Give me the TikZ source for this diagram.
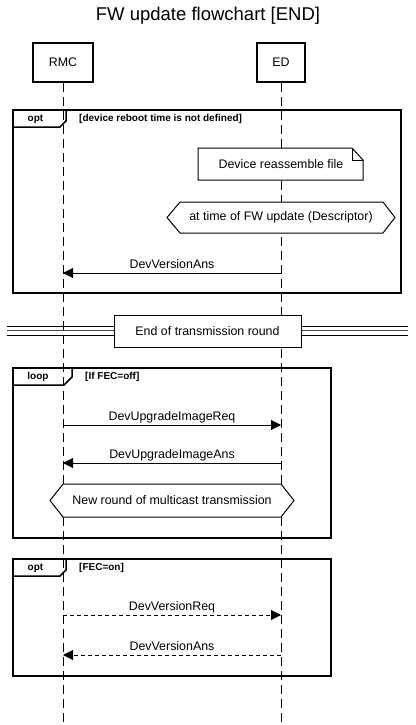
\documentclass[tikz,border=0pt]{standalone}
\usepackage{fontspec}
\setmainfont{Liberation Sans}
\usetikzlibrary{arrows.meta}

\begin{document}
\begin{tikzpicture}[x=1pt,y=-1pt]
        \tikzstyle{every node}=[font=\fontsize{12.4}{14}\selectfont,inner sep=0pt]
        \tikzstyle{actor}=[draw,line width=1.5pt,minimum height=39pt,fill=white]
        \tikzstyle{lifeline}=[line width=1pt,dash pattern=on 9pt off 5pt]
        \tikzstyle{frame}=[line width=1.5pt]
        \tikzstyle{tag}=[font=\fontsize{10}{12}\selectfont\bfseries,anchor=base]
        \tikzstyle{guard}=[font=\fontsize{10}{12}\selectfont\bfseries,anchor=base west]
        \tikzstyle{panel}=[draw,line width=1pt,fill=white]
        \tikzstyle{msg}=[line width=1pt,-{Triangle[length=10pt,width=10pt]}]
        \tikzstyle{reply}=[msg,dash pattern=on 4pt off 3pt]
        \tikzstyle{lbl}=[midway,anchor=base,yshift=5pt]
        \useasboundingbox (0,0) rectangle (415,725);

        \node (title) at (208,16) {\fontsize{18.5}{20}\selectfont FW update flowchart [END]};
        \node[actor,minimum width=60pt] (rmc) at (63,62.5) {RMC};
        \node[actor,minimum width=48pt] (ed) at (281,62.5) {ED};
        \coordinate (rmcend) at (63,725);
        \coordinate (edend) at (281,725);
        \draw[lifeline] (rmc.south) -- (rmcend);
        \draw[lifeline] (ed.south) -- (edend);

        % opt: reboot time
        \draw[frame] (13,110) rectangle (401,293);
        \draw[frame] (13,127) -- (60,127) -- (66,121) -- (66,110);
        \node[tag] (opta) at (35.5,121.5) {opt};
        \node[guard] (guarda) at (79,121.5) {[device reboot time is not defined]};
        \draw[panel] (198,148) -- (352,148) -- (363,160) -- (363,180) -- (198,180) -- cycle;
        \draw[line width=1pt] (352,148) -- (352,160) -- (363,160);
        \node (reassemble) at (281,164.5) {Device reassemble file};
        \draw[panel] (167,217.5) -- (180,202) -- (383,202) -- (395,217.5) -- (383,233) -- (180,233) -- cycle;
        \node (fwtime) at (281,217.5) {at time of FW update (Descriptor)};
        \coordinate (ed1) at (281,273);
        \coordinate (rmc1) at (63,273);
        \draw[msg] (ed1) -- (rmc1) node[lbl] {DevVersionAns};

        % end of round
        \coordinate (sepl) at (7,326);
        \coordinate (sepr) at (408,326);
        \draw[line width=1pt] (sepl) -- (sepr);
        \draw[line width=0.8pt,black!70] ([yshift=-4.8pt]sepl) -- ([yshift=-4.8pt]sepr);
        \draw[line width=1pt] ([yshift=-9.5pt]sepl) -- ([yshift=-9.5pt]sepr);
        \node[draw,line width=1pt,fill=white,minimum width=187pt,minimum height=32pt] (endround) at (207.5,331) {End of transmission round};

        % loop: FEC off
        \draw[frame] (13,368) rectangle (331,538);
        \draw[frame] (13,385) -- (64,385) -- (72,377) -- (72,368);
        \node[tag] (loop) at (38,379.5) {loop};
        \node[guard] (guardb) at (85,379.5) {[If FEC=off]};
        \coordinate (rmc2) at (63,425);
        \coordinate (ed2) at (281,425);
        \draw[msg] (rmc2) -- (ed2) node[lbl] {DevUpgradeImageReq};
        \coordinate (ed3) at (281,463);
        \coordinate (rmc3) at (63,463);
        \draw[msg] (ed3) -- (rmc3) node[lbl] {DevUpgradeImageAns};
        \draw[panel] (50,500.5) -- (63,484) -- (281,484) -- (294,500.5) -- (281,517) -- (63,517) -- cycle;
        \node (newround) at (172,500.5) {New round of multicast transmission};

        % opt: FEC on
        \draw[frame] (13,559) rectangle (331,676);
        \draw[frame] (13,576) -- (60,576) -- (66,570) -- (66,559);
        \node[tag] (optb) at (35.5,570.5) {opt};
        \node[guard] (guardc) at (79,570.5) {[FEC=on]};
        \coordinate (rmc4) at (63,615);
        \coordinate (ed4) at (281,615);
        \draw[reply] (rmc4) -- (ed4) node[lbl] {DevVersionReq};
        \coordinate (ed5) at (281,655);
        \coordinate (rmc5) at (63,655);
        \draw[reply] (ed5) -- (rmc5) node[lbl] {DevVersionAns};
\end{tikzpicture}
\end{document}
